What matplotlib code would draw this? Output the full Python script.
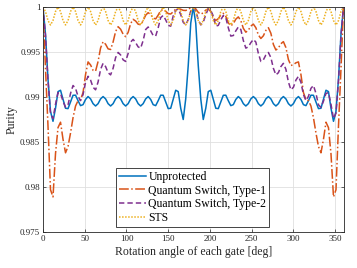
import numpy as np
import matplotlib
matplotlib.use("Agg")
import matplotlib.pyplot as plt

plt.rcParams["font.family"] = "serif"
plt.rcParams["font.serif"] = ["Liberation Serif", "DejaVu Serif"]

# rotation angle of each gate, every 3 deg from 0 to 360
angle = np.arange(0, 361, 3)

unprotected = [
    1.0, 0.9970, 0.9920, 0.9884, 0.9873, 0.98875, 0.9906, 0.99075, 0.98975, 0.98875,
    0.98871, 0.98945, 0.99019, 0.99020, 0.98959, 0.98904, 0.98915, 0.98973, 0.99005, 0.98979,
    0.98926, 0.98900, 0.98926, 0.98979, 0.99005, 0.98979, 0.98926, 0.98900, 0.98926, 0.98979,
    0.99005, 0.98979, 0.98926, 0.98900, 0.98926, 0.98979, 0.99005, 0.98979, 0.98926, 0.98900,
    0.98926, 0.98979, 0.99005, 0.98973, 0.98915, 0.98904, 0.98959, 0.99020, 0.99019, 0.98945,
    0.98871, 0.98875, 0.98975, 0.99075, 0.9906, 0.98875, 0.9875, 0.9898, 0.9935, 0.9982,
    1.0,
    0.9982, 0.9935, 0.9898, 0.9875, 0.98875, 0.9906, 0.99075, 0.98975, 0.98875, 0.98871,
    0.98945, 0.99019, 0.99020, 0.98959, 0.98904, 0.98915, 0.98973, 0.99005, 0.98979, 0.98926,
    0.98900, 0.98926, 0.98979, 0.99005, 0.98979, 0.98926, 0.98900, 0.98926, 0.98979, 0.99005,
    0.98979, 0.98926, 0.98900, 0.98926, 0.98979, 0.99005, 0.98979, 0.98926, 0.98900, 0.98926,
    0.98979, 0.99005, 0.98973, 0.98915, 0.98904, 0.98959, 0.99020, 0.99019, 0.98945, 0.98871,
    0.98875, 0.98975, 0.99075, 0.9906, 0.98875, 0.9873, 0.9884, 0.9920, 0.9970, 1.0,
]

qs_type1 = [
    1.0, 0.9932, 0.9868, 0.9797, 0.9789, 0.9837, 0.9866, 0.9872, 0.9853, 0.9838,
    0.9845, 0.9860, 0.9877, 0.9890, 0.9896, 0.9897, 0.9905, 0.9925, 0.9939, 0.99356,
    0.99296, 0.99288, 0.99395, 0.99545, 0.99614, 0.99586, 0.99535, 0.99528, 0.99612, 0.99728,
    0.99781, 0.99753, 0.99698, 0.9967, 0.99718, 0.99815, 0.99863, 0.99844, 0.99809, 0.99803,
    0.99847, 0.99909, 0.99937, 0.99915, 0.99876, 0.99868, 0.9991, 0.99961, 0.99972, 0.99952,
    0.99926, 0.99922, 0.99947, 0.99977, 0.99984, 0.99975, 0.99963, 0.99961, 0.99974, 0.99992,
    1.0,
    0.9998, 0.9994, 0.9992, 0.99935, 0.99965, 0.9998, 0.99948, 0.99883, 0.9985, 0.9987,
    0.9991, 0.9993, 0.99895, 0.99825, 0.9979, 0.99815, 0.99865, 0.9989, 0.99848, 0.99763,
    0.9972, 0.99743, 0.99788, 0.9981, 0.9977, 0.9969, 0.9965, 0.9968, 0.9974, 0.9977,
    0.99708, 0.99584, 0.99522, 0.99545, 0.99592, 0.99615, 0.99549, 0.99416, 0.9935, 0.9936,
    0.9938, 0.9939, 0.9925, 0.9905, 0.9897, 0.9896, 0.9890, 0.9877, 0.9860, 0.9845,
    0.9838, 0.9853, 0.9872, 0.9866, 0.9837, 0.9789, 0.9797, 0.9868, 0.9932, 1.0,
]

qs_type2 = [
    1.0, 0.9968, 0.9918, 0.9882, 0.9876, 0.98919, 0.99049, 0.99039, 0.98954, 0.98885,
    0.98913, 0.9904, 0.99128, 0.99096, 0.99007, 0.9896, 0.99028, 0.99163, 0.9923, 0.99188,
    0.99108, 0.9908, 0.99167, 0.99307, 0.99374, 0.99338, 0.9927, 0.99246, 0.99319, 0.99438,
    0.99495, 0.99467, 0.99413, 0.99395, 0.99484, 0.9961, 0.9964, 0.99604, 0.99557, 0.99543,
    0.99628, 0.9975, 0.99778, 0.99735, 0.99683, 0.99677, 0.99769, 0.99882, 0.99906, 0.99857,
    0.99796, 0.99787, 0.999, 0.99961, 0.9998, 0.99915, 0.9983, 0.99801, 0.9986, 0.99955,
    1.0,
    0.99955, 0.9986, 0.99801, 0.9983, 0.99915, 0.9998, 0.99961, 0.999, 0.99787, 0.99796,
    0.99857, 0.99906, 0.99882, 0.99769, 0.99677, 0.99683, 0.99735, 0.99778, 0.9975, 0.99628,
    0.99543, 0.99557, 0.99604, 0.9964, 0.9961, 0.99484, 0.99395, 0.99413, 0.99467, 0.99495,
    0.99438, 0.99319, 0.99246, 0.9927, 0.99338, 0.99374, 0.99307, 0.99167, 0.9908, 0.99108,
    0.99188, 0.9923, 0.99163, 0.99028, 0.9896, 0.99007, 0.99096, 0.99128, 0.9904, 0.98913,
    0.98885, 0.98954, 0.99039, 0.99049, 0.98919, 0.9876, 0.9882, 0.9918, 0.9968, 1.0,
]

sts = [
    1.0, 0.9995, 0.9985, 0.998, 0.9985, 0.9995,
    1.0, 0.9995, 0.9985, 0.998, 0.9985, 0.9995,
    1.0, 0.9995, 0.9985, 0.998, 0.9985, 0.9995,
    1.0, 0.9995, 0.9985, 0.998, 0.9985, 0.9995,
    1.0, 0.9995, 0.9985, 0.998, 0.9985, 0.9995,
    1.0, 0.9995, 0.9985, 0.998, 0.9985, 0.9995,
    1.0, 0.9995, 0.9985, 0.998, 0.9985, 0.9995,
    1.0, 0.9995, 0.9985, 0.998, 0.9985, 0.9995,
    1.0, 0.9995, 0.9985, 0.998, 0.9985, 0.9995,
    1.0, 0.9995, 0.9985, 0.998, 0.9985, 0.9995,
    1.0, 0.9995, 0.9985, 0.998, 0.9985, 0.9995,
    1.0, 0.9995, 0.9985, 0.998, 0.9985, 0.9995,
    1.0, 0.9995, 0.9985, 0.998, 0.9985, 0.9995,
    1.0, 0.9995, 0.9985, 0.998, 0.9985, 0.9995,
    1.0, 0.9995, 0.9985, 0.998, 0.9985, 0.9995,
    1.0, 0.9995, 0.9985, 0.998, 0.9985, 0.9995,
    1.0, 0.9995, 0.9985, 0.998, 0.9985, 0.9995,
    1.0, 0.9995, 0.9985, 0.998, 0.9985, 0.9995,
    1.0, 0.9995, 0.9985, 0.998, 0.9985, 0.9995,
    1.0, 0.9995, 0.9985, 0.998, 0.9985, 0.9995,
    1.0,
]

x_ticks = [0, 50, 100, 150, 200, 250, 300, 350]
y_ticks = [0.975, 0.98, 0.985, 0.99, 0.995, 1.0]
y_tick_labels = ["0.975", "0.98", "0.985", "0.99", "0.995", "1"]

fig = plt.figure(figsize=(3.57, 2.68), dpi=100)
ax = fig.add_axes([0.1204, 0.1343, 0.8418, 0.8396])

ax.plot(angle, unprotected, color="#0072BD", linewidth=1.1, label="Unprotected")
ax.plot(angle, qs_type1, color="#D95319", linewidth=1.1, linestyle="-.",
        label="Quantum Switch, Type-1")
ax.plot(angle, qs_type2, color="#7E2F8E", linewidth=1.1, linestyle=(0, (3.5, 2)),
        label="Quantum Switch, Type-2")
ax.plot(angle, sts, color="#EDB120", linewidth=1.1, linestyle=(0, (1, 1)), label="STS")

ax.set_xlim(0, 360)
ax.set_ylim(0.975, 1.0)
ax.set_xticks(x_ticks)
ax.set_yticks(y_ticks)
ax.set_yticklabels(y_tick_labels)
ax.tick_params(direction="in", length=2.5, width=0.5, labelsize=6.5,
               top=True, right=True, pad=2, colors="#262626")
ax.grid(True, color="#DFDFDF", linewidth=0.6)
ax.set_axisbelow(True)
for sp in ax.spines.values():
    sp.set_linewidth(0.6)
    sp.set_color("#262626")

ax.set_xlabel("Rotation angle of each gate [deg]", fontsize=8.5, labelpad=2, color="#262626")
ax.set_ylabel("Purity", fontsize=8.5, labelpad=2, color="#262626")

leg = ax.legend(loc="lower left", bbox_to_anchor=(0.243, 0.022), borderaxespad=0,
                fontsize=8.5, handlelength=2.3, handletextpad=0.2, labelspacing=0.15,
                borderpad=0.25, fancybox=False, framealpha=1, edgecolor="#262626")
leg.get_frame().set_linewidth(0.6)

fig.savefig("out.png", dpi=100)
